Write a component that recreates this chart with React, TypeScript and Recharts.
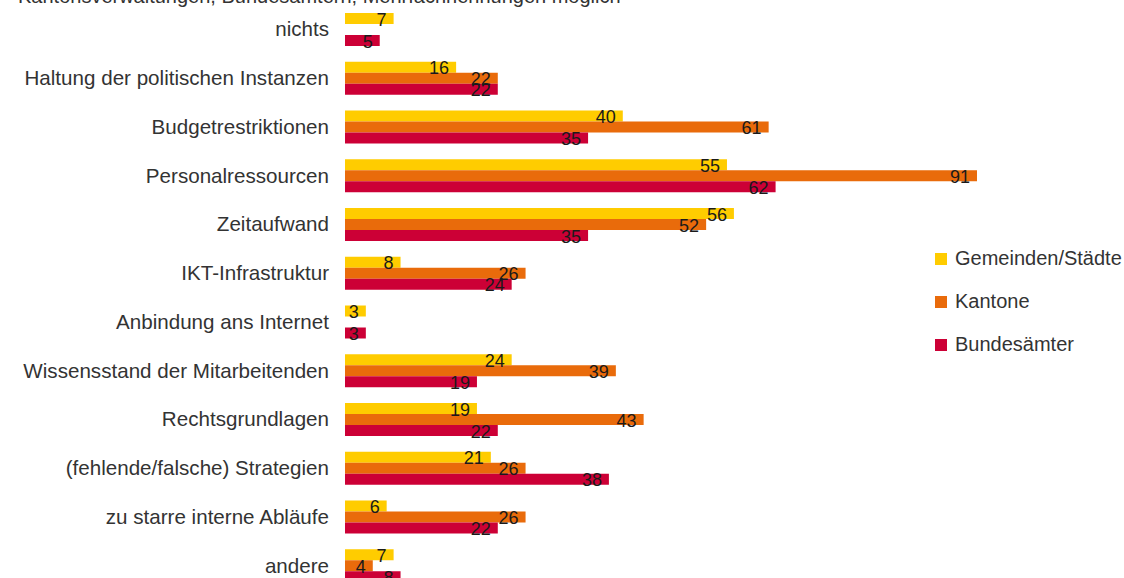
import { Bar, BarChart, LabelList, XAxis, YAxis } from "recharts";

const categories = [
  "nichts",
  "Haltung der politischen Instanzen",
  "Budgetrestriktionen",
  "Personalressourcen",
  "Zeitaufwand",
  "IKT-Infrastruktur",
  "Anbindung ans Internet",
  "Wissensstand der Mitarbeitenden",
  "Rechtsgrundlagen",
  "(fehlende/falsche) Strategien",
  "zu starre interne Abläufe",
  "andere",
];

const gemeinden = [7, 16, 40, 55, 56, 8, 3, 24, 19, 21, 6, 7];
const kantone = [null, 22, 61, 91, 52, 26, null, 39, 43, 26, 26, 4];
const bund = [5, 22, 35, 62, 35, 24, 3, 19, 22, 38, 22, 8];

const series = [
  { key: "gemeinden", name: "Gemeinden/Städte", color: "#FFCC00" },
  { key: "kantone", name: "Kantone", color: "#E96B0B" },
  { key: "bund", name: "Bundesämter", color: "#CC0036" },
];

const data = categories.map((name, i) => ({
  name,
  gemeinden: gemeinden[i],
  kantone: kantone[i],
  bund: bund[i],
}));

const FONT = "'Liberation Sans', Arial, Helvetica, sans-serif";

function CategoryTick(props: any) {
  const { x, y, payload } = props;
  return (
    <text x={x} y={y + 7} textAnchor="end" fill="#333" fontSize={20.6} fontFamily={FONT}>
      {payload.value}
    </text>
  );
}

function ValueLabel(props: any) {
  const { x, y, width, value } = props;
  if (value == null) return null;
  return (
    <text
      x={x + width - 7}
      y={y + 12.7}
      textAnchor="end"
      fill="#1a1a1a"
      fontSize={18}
      fontFamily={FONT}
    >
      {value}
    </text>
  );
}

// legend drawn as an overlay so it doesn't eat into the plot width
function LegendBox() {
  return (
    <div
      style={{
        position: "absolute",
        left: 935,
        top: 237,
        fontFamily: FONT,
        fontSize: 20,
        color: "#333",
      }}
    >
      {series.map((s) => (
        <div key={s.key} style={{ display: "flex", alignItems: "center", height: 43 }}>
          <span style={{ width: 12, height: 12, background: s.color, marginRight: 8 }} />
          <span>{s.name}</span>
        </div>
      ))}
    </div>
  );
}

export default function App() {
  return (
    <div
      style={{
        position: "absolute",
        left: 0,
        top: 0,
        width: 1124,
        height: 578,
        overflow: "hidden",
        background: "#fff",
      }}
    >
      <svg width={1124} height={10} style={{ position: "absolute", left: 0, top: 0 }}>
        <text x={18} y={3} fill="#333" fontSize={20} fontFamily={FONT}>
          Kantonsverwaltungen, Bundesämtern; Mehrfachnennungen möglich
        </text>
      </svg>
      <BarChart
        width={1124}
        height={590}
        data={data}
        layout="vertical"
        margin={{ top: 5, right: 84.5, bottom: 0, left: 0 }}
        barGap={0}
        barSize={11}
      >
        <XAxis type="number" domain={[0, 100]} hide />
        <YAxis
          type="category"
          dataKey="name"
          width={345}
          axisLine={false}
          tickLine={false}
          tickSize={0}
          tickMargin={16}
          interval={0}
          tick={<CategoryTick />}
        />
        {series.map((s) => (
          <Bar key={s.key} dataKey={s.key} name={s.name} fill={s.color} isAnimationActive={false}>
            <LabelList dataKey={s.key} content={<ValueLabel />} />
          </Bar>
        ))}
      </BarChart>
      <LegendBox />
    </div>
  );
}
